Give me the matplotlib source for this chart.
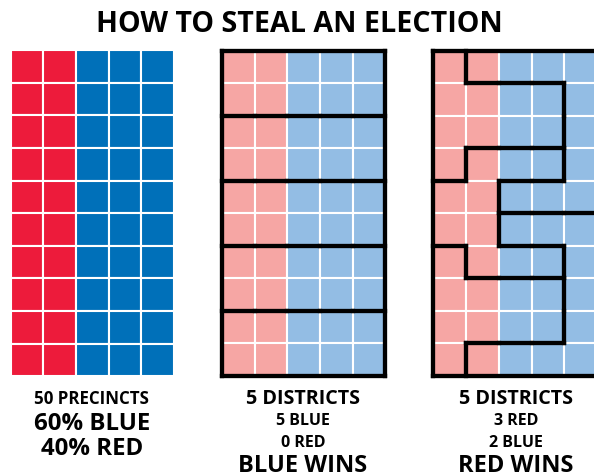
import matplotlib.pyplot as plt
from matplotlib.patches import Rectangle
from matplotlib.collections import LineCollection

W, H = 594, 477  # output size in pixels

# 50 precincts, 10 rows of 5; R = red, B = blue
precincts = ["RRBBB"] * 10

# district id of every precinct (one string per row)
districts_fair = ["00000", "00000", "11111", "11111", "22222",
                  "22222", "33333", "33333", "44444", "44444"]
districts_rigged = ["10000", "11110", "11110", "12220", "22000",
                    "22333", "42223", "44443", "44443", "43333"]

title = "HOW TO STEAL AN ELECTION"
captions = [
    [("50 PRECINCTS", 12.2), ("60% BLUE", 17.3), ("40% RED", 17.3)],
    [("5 DISTRICTS", 14.2), ("5 BLUE", 11.5), ("0 RED", 11.5), ("BLUE WINS", 17.0)],
    [("5 DISTRICTS", 14.2), ("3 RED", 11.5), ("2 BLUE", 11.5), ("RED WINS", 17.0)],
]

STRONG = {"R": "#ED1B3B", "B": "#0070B9"}
LIGHT = {"R": "#F6A6A4", "B": "#93BDE4"}
FONT = "Open Sans"


def add_panel(fig, box, colors, districts=None):
    """box = (left, top, right, bottom) in pixels, y measured from the top."""
    left, top, right, bottom = box
    ax = fig.add_axes([left / W, 1 - bottom / H, (right - left) / W, (bottom - top) / H])
    nrows, ncols = len(precincts), len(precincts[0])
    ax.set_xlim(0, ncols)
    ax.set_ylim(nrows, 0)
    ax.axis("off")
    for r, row in enumerate(precincts):
        for c, party in enumerate(row):
            ax.add_patch(Rectangle((c, r), 1, 1, facecolor=colors[party],
                                   edgecolor="white", linewidth=1.5))
    if districts is None:
        return ax

    # outer border + every edge between two precincts of different districts
    segs = [[(0, 0), (ncols, 0)], [(ncols, 0), (ncols, nrows)],
            [(ncols, nrows), (0, nrows)], [(0, nrows), (0, 0)]]
    for r in range(nrows):
        for c in range(ncols):
            if c + 1 < ncols and districts[r][c] != districts[r][c + 1]:
                segs.append([(c + 1, r), (c + 1, r + 1)])
            if r + 1 < nrows and districts[r][c] != districts[r + 1][c]:
                segs.append([(c, r + 1), (c + 1, r + 1)])
    lc = LineCollection(segs, colors="black", linewidths=3.1,
                        capstyle="projecting", clip_on=False, zorder=5)
    ax.add_collection(lc)
    return ax


def add_caption(fig, x, baselines, lines):
    for y, (txt, size) in zip(baselines, lines):
        fig.text(x / W, 1 - y / H, txt, ha="center", va="baseline",
                 fontsize=size, fontweight="bold", family=FONT)


fig = plt.figure(figsize=(W / 100, H / 100), dpi=100)
fig.patch.set_facecolor("white")

fig.text(299 / W, 1 - 31.7 / H, title, ha="center", va="baseline",
         fontsize=20.6, fontweight="bold", family=FONT)

add_panel(fig, (10.6, 51.2, 173.8, 377.2), STRONG)
add_panel(fig, (222.0, 51.5, 385.3, 377.0), LIGHT, districts_fair)
add_panel(fig, (432.8, 51.5, 597.3, 377.0), LIGHT, districts_rigged)

add_caption(fig, 91.7, [404, 429.8, 455.5], captions[0])
add_caption(fig, 303, [404, 425.3, 447, 472.5], captions[1])
add_caption(fig, 515.8, [404, 425.3, 447, 472.5], captions[2])

fig.savefig("out.png", dpi=100, facecolor="white")
